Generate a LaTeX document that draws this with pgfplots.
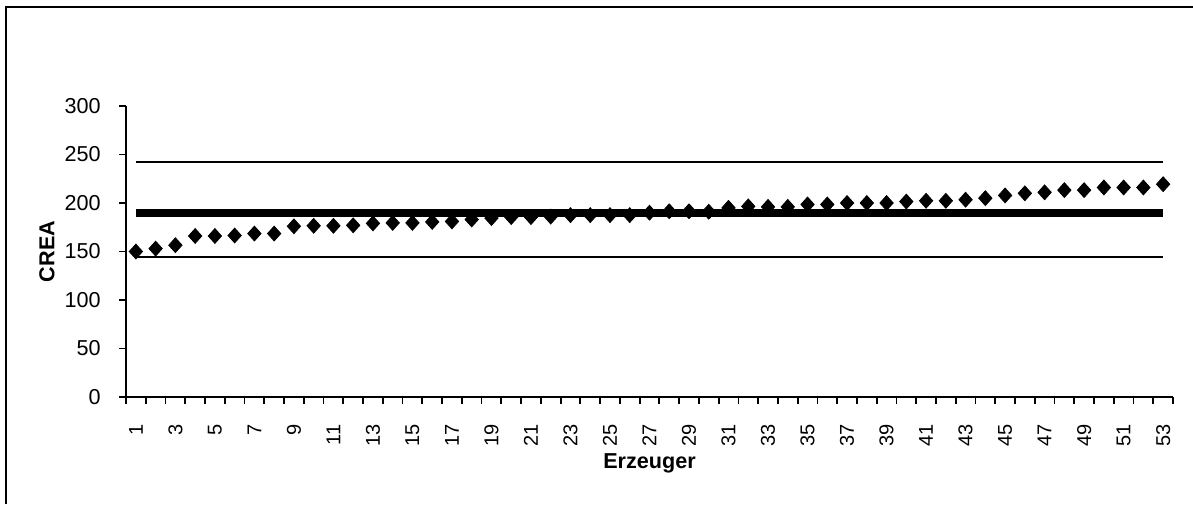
\documentclass[border=0pt]{standalone}
\usepackage{fontspec}
\setmainfont{Liberation Sans}
\usepackage{pgfplots}
\pgfplotsset{compat=1.18}

% values, one diamond per Erzeuger
\begin{document}
\begin{tikzpicture}
\useasboundingbox (0,0) rectangle (596.5pt,252pt);
\draw[line width=1pt] (3pt,0) -- (3pt,248.5pt) -- (596.5pt,248.5pt);
\begin{axis}[
    at={(63pt,53.5pt)}, anchor=south west,
    scale only axis, width=523.5pt, height=145.5pt,
    xmin=0.5, xmax=53.5, ymin=0, ymax=300,
    axis x line*=bottom, axis y line*=left,
    axis line style={line width=1pt},
    tick align=outside,
    xtick={1,3,...,53},
    minor xtick={0.5,1.5,...,53.5},
    ytick={0,50,...,300},
    major tick length=3.5pt, minor tick length=3.5pt,
    tick style={line width=0.9pt, black},
    major x tick style={draw=none},
    /pgf/number format/assume math mode=true,
    xticklabel style={font=\fontsize{10}{12}\selectfont, rotate=90, anchor=east, inner sep=0pt},
    yticklabel style={font=\fontsize{10.8}{12}\selectfont, anchor=east, inner sep=0pt},
    xticklabel shift=10pt,
    yticklabel shift=9pt,
    xlabel={Erzeuger}, ylabel={CREA},
    label style={font=\fontsize{10.8}{12}\selectfont\bfseries},
    xlabel style={at={(axis description cs:0.5,-0.2268)}, anchor=center},
    ylabel style={at={(axis description cs:-0.0755,0.5)}, anchor=center},
    clip=false,
]
% upper limit
\addplot[black, line width=0.9pt, no marks] coordinates {(1,242) (53,242)};
% lower limit
\addplot[black, line width=0.9pt, no marks] coordinates {(1,144) (53,144)};
% mean
\addplot[black, line width=3.9pt, no marks] coordinates {(1,190) (53,190)};
\addplot[only marks, mark=diamond*, mark size=3.7pt,
    mark options={fill=black, draw=black, line width=0.4pt, xscale=1.2}]
    coordinates {
    (1,150) (2,153) (3,156.5) (4,166) (5,166) (6,166.5) (7,168.5) (8,168.5)
    (9,176) (10,176.5) (11,176.5) (12,177) (13,179) (14,179.5) (15,179.5)
    (16,180.5) (17,181) (18,183) (19,184.5) (20,185.5) (21,185.5) (22,186)
    (23,187.5) (24,187.5) (25,187.5) (26,187.5) (27,190) (28,191.5) (29,191.5)
    (30,191) (31,195) (32,196.5) (33,196) (34,196) (35,198.5) (36,198.5)
    (37,200) (38,200) (39,200) (40,201.5) (41,202.3) (42,202.3) (43,203.4)
    (44,205) (45,207.8) (46,210) (47,211) (48,213.3) (49,213.3) (50,216)
    (51,216) (52,216) (53,219.4)
    };
\end{axis}
\end{tikzpicture}
\end{document}
